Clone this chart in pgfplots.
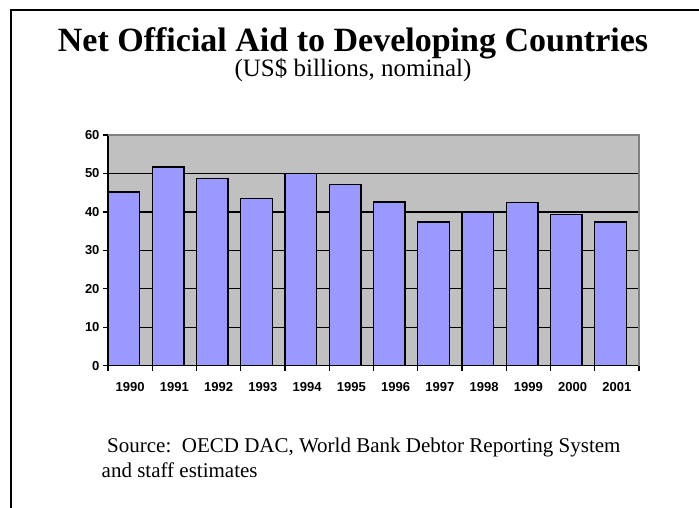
\documentclass[border=0pt]{standalone}
\usepackage{pgfplots}
\pgfplotsset{compat=1.18}
\usepackage{fontspec}
\setmainfont{Liberation Serif}
\newfontfamily\arialfont{Liberation Sans}
\definecolor{barblue}{HTML}{9999FF}
\definecolor{plotgray}{HTML}{C0C0C0}
\definecolor{bordergray}{HTML}{808080}
\begin{document}
\begin{tikzpicture}[x=1pt,y=1pt]
\useasboundingbox (0,0) rectangle (699,508);
% slide frame
\draw[line width=1.5pt] (11,0) -- (11,498) -- (699,498);
% titles
\node[anchor=base,inner sep=0] at (353,456.5) {\fontsize{34}{40}\selectfont\bfseries Net Official Aid to Developing Countries};
\node[anchor=base,inner sep=0] at (353,431.5) {\fontsize{25}{30}\selectfont (US\$ billions, nominal)};
\node[anchor=base west,inner sep=0] at (107,55) {\fontsize{21}{25}\selectfont Source:\ \ OECD DAC, World Bank Debtor Reporting System};
\node[anchor=base west,inner sep=0] at (101.5,30) {\fontsize{21}{25}\selectfont and staff estimates};
\begin{axis}[
  at={(108pt,142.3pt)}, anchor=south west,
  scale only axis, width=531pt, height=230.7pt,
  xmin=-0.5, xmax=11.5, ymin=0, ymax=60,
  axis x line*=bottom, axis y line*=left,
  axis line style={-, line width=1.3pt, black},
  axis background/.style={fill=plotgray},
  ytick={0,10,...,60},
  ymajorgrids, grid style={black, line width=1.3pt},
  xtick={0,...,11},
  xticklabels={1990,1991,1992,1993,1994,1995,1996,1997,1998,1999,2000,2001},
  minor xtick={-0.5,0.5,...,11.5},
  tick align=outside,
  major tick length=5pt, minor tick length=5pt,
  major x tick style={draw=none},
  major y tick style={black, line width=1.3pt},
  minor x tick style={black, line width=1.3pt},
  tick label style={font=\arialfont\bfseries\fontsize{13}{13}\selectfont},
  x tick label style={yshift=-8.5pt},
  /pgf/number format/assume math mode=true,
  xtick pos=bottom, ytick pos=left,
  ybar, bar width=31.6pt, bar shift=-6.3pt,
  clip=false,
]
\addplot[fill=barblue, draw=black, line width=1.3pt] coordinates {
 (0,45.2) (1,51.7) (2,48.7) (3,43.5) (4,50.0) (5,47.2)
 (6,42.6) (7,37.4) (8,40.0) (9,42.4) (10,39.3) (11,37.4)};
\draw[bordergray, line width=1.5pt] (rel axis cs:0,1) -- (rel axis cs:1,1) -- (rel axis cs:1,0);
\end{axis}
\end{tikzpicture}
\end{document}
